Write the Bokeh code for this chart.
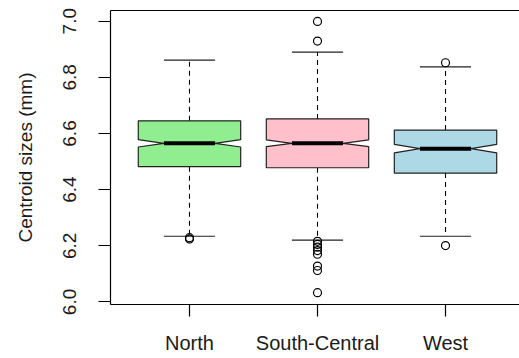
from bokeh.plotting import figure
from bokeh.models import Range1d, FixedTicker, PrintfTickFormatter, LinearAxis
from bokeh.embed import file_html
from bokeh.resources import INLINE

# ---- data ----
categories = ["North", "South-Central", "West"]
q1 = [6.482, 6.478, 6.459]
medians = [6.565, 6.565, 6.546]
q3 = [6.645, 6.652, 6.612]
whisker_low = [6.234, 6.220, 6.234]
whisker_high = [6.861, 6.890, 6.837]
notch_half = [0.013, 0.012, 0.015]
fill_colors = ["#90EE90", "#FFC0CB", "#ADD8E6"]
outliers_north = [6.224, 6.229]
outliers_south_central = [6.999, 6.929, 6.216, 6.205, 6.195, 6.183, 6.170, 6.128, 6.112, 6.033]
outliers_west = [6.852, 6.201]
y_ticks = [6.0, 6.2, 6.4, 6.6, 6.8, 7.0]
y_label = "Centroid sizes (mm)"

FONT = "Liberation Sans"
TXT = "#1a1a1a"
box_half = 0.4
cap_half = 0.2
pos = [i + 1 for i in range(len(categories))]

p = figure(width=519, height=358, output_backend="svg", toolbar_location=None,
           x_range=Range1d(0.383, 3.578), y_range=Range1d(5.991, 7.038),
           min_border_left=110, min_border_right=0, min_border_top=10, min_border_bottom=54)
p.xgrid.visible = False
p.ygrid.visible = False
p.outline_line_color = None
p.background_fill_color = "white"
p.border_fill_color = "white"

# notched boxes
xs, ys = [], []
for x, a, m, b, n in zip(pos, q1, medians, q3, notch_half):
    xs.append([x - box_half, x - box_half, x - box_half / 2, x - box_half, x - box_half,
               x + box_half, x + box_half, x + box_half / 2, x + box_half, x + box_half])
    ys.append([a, m - n, m, m + n, b, b, m + n, m, m - n, a])

# whiskers
p.segment(x0=pos, y0=q3, x1=pos, y1=whisker_high, line_color="black", line_width=1.1, line_dash="5 4")
p.segment(x0=pos, y0=q1, x1=pos, y1=whisker_low, line_color="black", line_width=1.1, line_dash="5 4")
# caps
p.segment(x0=[x - cap_half for x in pos], y0=whisker_high, x1=[x + cap_half for x in pos], y1=whisker_high,
          line_color="#222222", line_width=1.2)
p.segment(x0=[x - cap_half for x in pos], y0=whisker_low, x1=[x + cap_half for x in pos], y1=whisker_low,
          line_color="#222222", line_width=1.2)

p.patches(xs=xs, ys=ys, fill_color=fill_colors, line_color="#222222", line_width=1.2)
# medians
p.segment(x0=[x - box_half / 2 for x in pos], y0=medians, x1=[x + box_half / 2 for x in pos], y1=medians,
          line_color="black", line_width=4)

# outliers
ox, oy = [], []
for x, vals in zip(pos, [outliers_north, outliers_south_central, outliers_west]):
    ox += [x] * len(vals)
    oy += vals
p.scatter(x=ox, y=oy, marker="circle", size=8, fill_color=None, line_color="black", line_width=1.2)

# axes
p.xaxis.ticker = FixedTicker(ticks=pos)
p.xaxis.major_label_overrides = {x: c for x, c in zip(pos, categories)}
p.yaxis.ticker = FixedTicker(ticks=y_ticks)
p.yaxis.formatter = PrintfTickFormatter(format="%.1f")
p.yaxis.major_label_orientation = "vertical"
p.yaxis.axis_label = y_label
for ax in (p.xaxis[0], p.yaxis[0]):
    ax.axis_line_color = "black"
    ax.axis_line_width = 1.2
    ax.major_tick_line_color = "black"
    ax.major_tick_line_width = 1.2
    ax.major_tick_in = 0
    ax.major_tick_out = 12
    ax.minor_tick_line_color = None
    ax.major_label_text_font = FONT
    ax.major_label_text_font_size = "19px"
    ax.major_label_text_color = TXT
    ax.axis_label_text_font = FONT
    ax.axis_label_text_font_size = "19px"
    ax.axis_label_text_font_style = "normal"
    ax.axis_label_text_color = TXT
p.xaxis.major_label_text_font_size = "20px"
p.xaxis.major_label_standoff = 15
p.yaxis.major_label_standoff = 22
p.yaxis.axis_label_standoff = 25

top = LinearAxis(ticker=FixedTicker(ticks=[]), axis_line_color="black", axis_line_width=1.2,
                 major_tick_line_color=None, minor_tick_line_color=None,
                 major_label_text_font_size="0px")
p.add_layout(top, "above")

open("out.html", "w").write(file_html(p, INLINE))
